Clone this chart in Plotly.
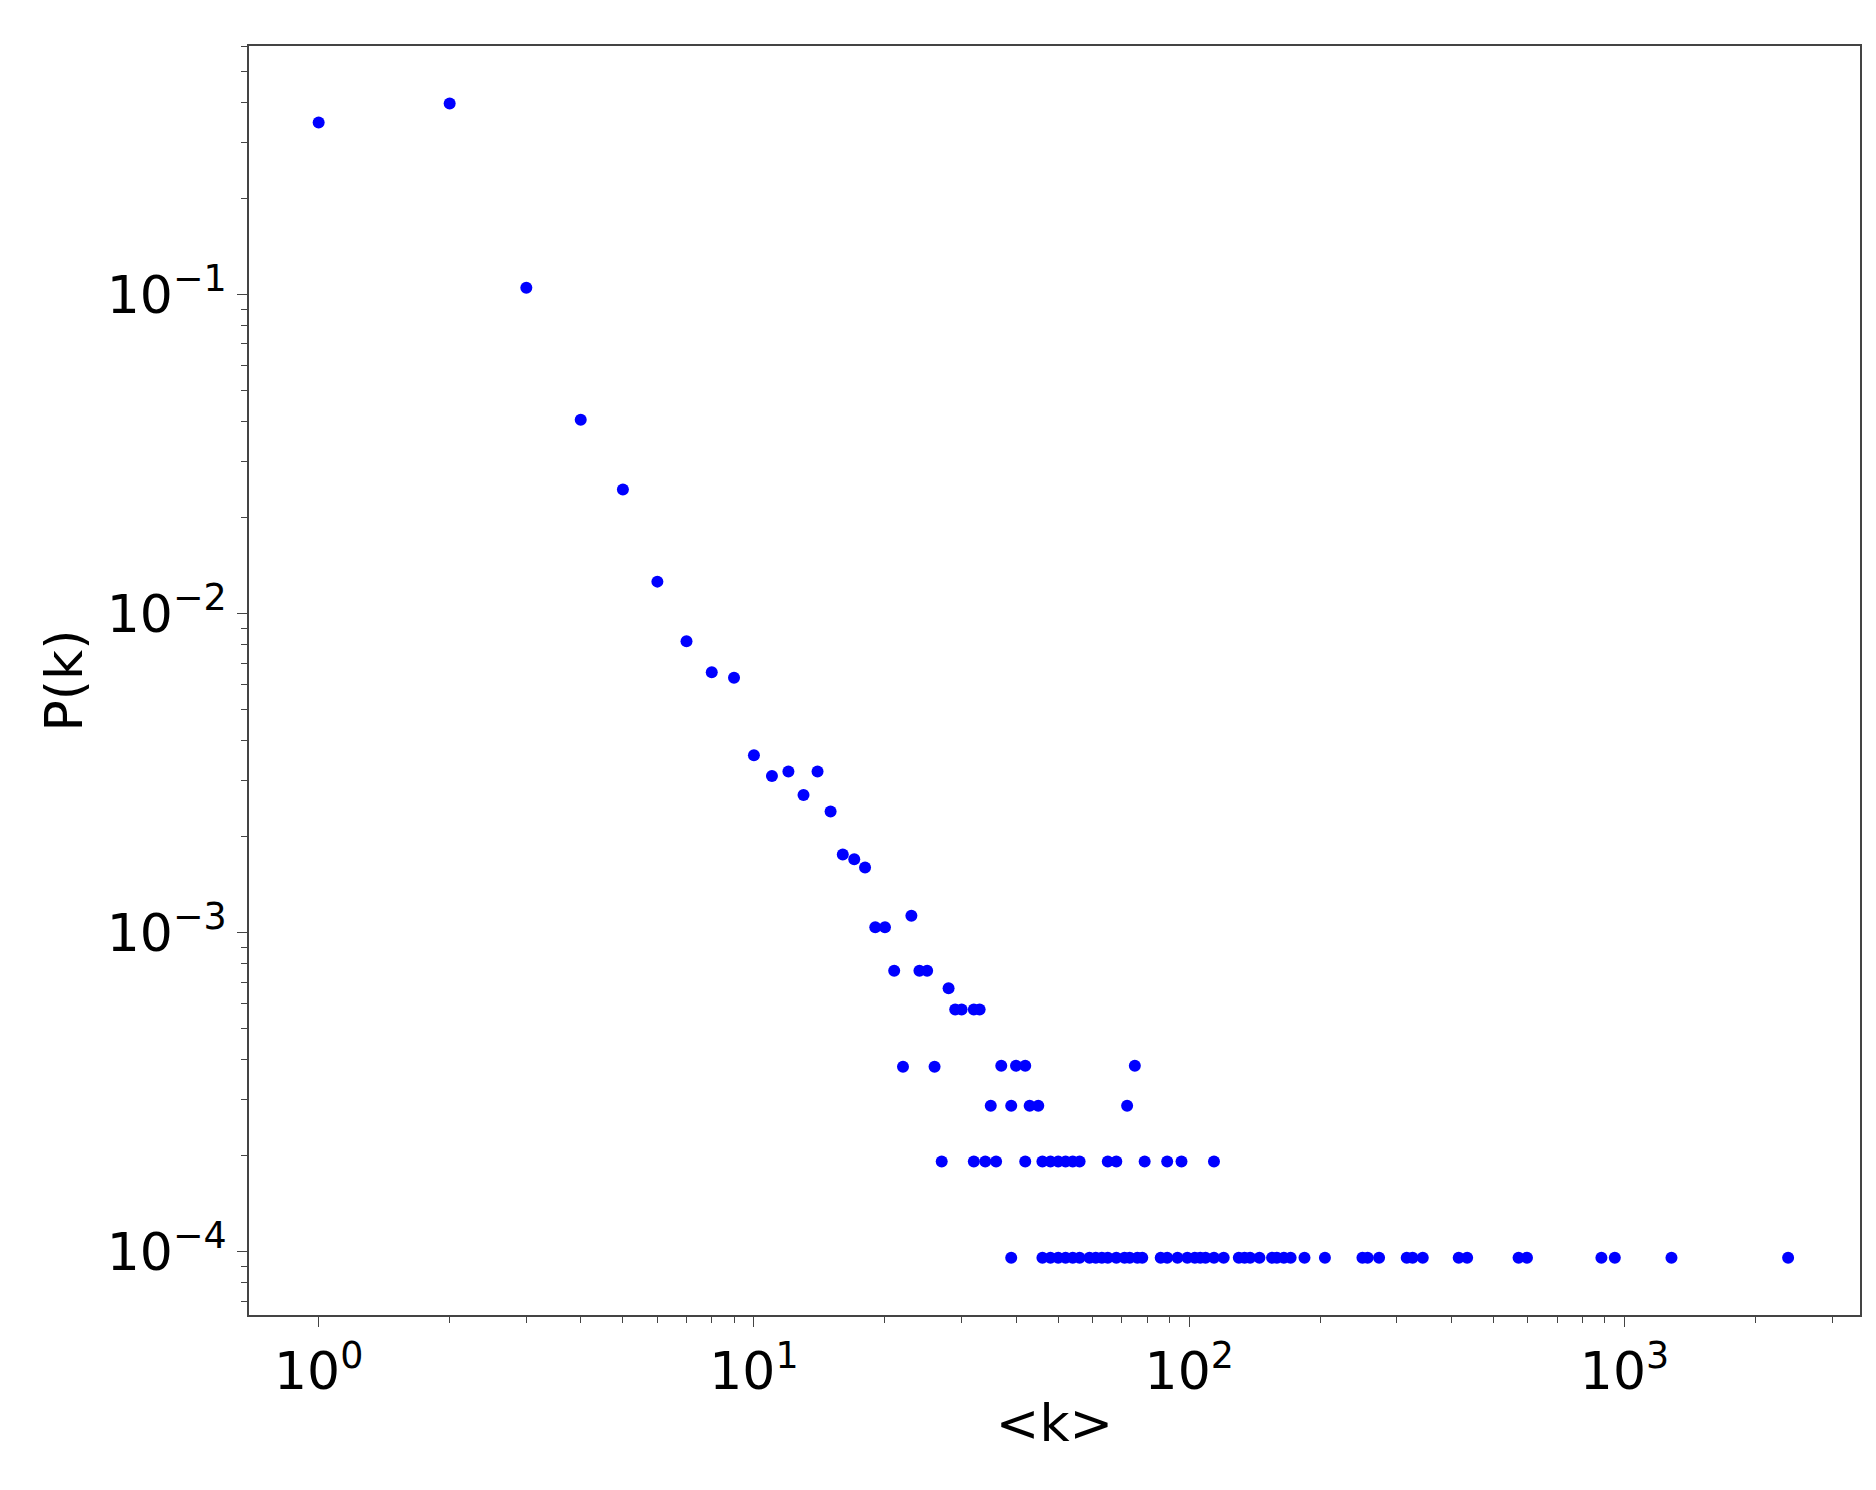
import plotly.graph_objects as go

# degree distribution
k_head = [1, 2, 3, 4, 5, 6, 7, 8, 9, 10, 11, 12, 13, 14, 15, 16, 17, 18, 19, 20,
          21, 22, 23, 24, 25, 26, 28]
p_head = [0.346, 0.397, 0.105, 0.0405, 0.0245, 0.0126, 0.0082, 0.00655, 0.0063,
          0.0036, 0.0031, 0.0032, 0.0027, 0.0032, 0.0024, 0.00176, 0.0017, 0.0016,
          0.00104, 0.00104, 7.6e-4, 3.8e-4, 1.13e-3, 7.6e-4, 7.6e-4, 3.8e-4, 6.7e-4]

k_6 = [29, 30, 32, 33]
k_4 = [37, 40, 42, 75]
k_3 = [35, 39, 43, 45, 72]
k_2 = [27, 32, 34, 36, 42, 46, 48, 50, 52, 54, 56, 65, 68, 79, 89, 96, 114]
k_1 = [39, 46, 48, 50, 52, 54, 56, 59, 61, 63, 65, 68, 71, 73, 76, 78, 86, 89, 94,
       99, 103, 106, 109, 114, 120, 130, 134, 138, 145, 155, 159, 165, 171, 184,
       205, 250, 257, 273, 316, 326, 344, 416, 435, 571, 597, 885, 950, 1282, 2376]

p_1, p_2, p_3, p_4, p_6 = 9.58e-5, 1.92e-4, 2.87e-4, 3.83e-4, 5.75e-4

x = k_head + k_6 + k_4 + k_3 + k_2 + k_1
y = (p_head + [p_6] * len(k_6) + [p_4] * len(k_4) + [p_3] * len(k_3)
     + [p_2] * len(k_2) + [p_1] * len(k_1))

fig = go.Figure(go.Scatter(x=x, y=y, mode='markers',
                           marker=dict(color='blue', size=12)))

fnt = dict(family='DejaVu Sans', size=52, color='black')
fig.update_layout(width=1876, height=1490, plot_bgcolor='white', paper_bgcolor='white',
                  margin=dict(l=241, r=24, t=38, b=183), showlegend=False, font=fnt)

fig.update_xaxes(type='log', range=[-0.16, 3.541], showgrid=False, zeroline=False,
                 showline=True, linecolor='#444', linewidth=2, mirror=True,
                 ticks='outside', ticklen=10, tickcolor='#444',
                 tickvals=[1, 10, 100, 1000],
                 ticktext=['10<sup>0</sup>', '10<sup>1</sup>', '10<sup>2</sup>', '10<sup>3</sup>'],
                 minor=dict(ticks='outside', ticklen=6, tickcolor='#444',
                            tickvals=[m * 10 ** e for e in range(0, 4) for m in range(2, 10)]),
                 title=dict(text='&lt;k&gt;', font=fnt, standoff=4))
fig.update_yaxes(type='log', range=[-4.198, -0.221], showgrid=False, zeroline=False,
                 showline=True, linecolor='#444', linewidth=2, mirror=True,
                 ticks='outside', ticklen=10, tickcolor='#444',
                 tickvals=[1e-4, 1e-3, 1e-2, 1e-1],
                 ticktext=['10<sup>−4</sup>', '10<sup>−3</sup>', '10<sup>−2</sup>', '10<sup>−1</sup>'],
                 minor=dict(ticks='outside', ticklen=6, tickcolor='#444',
                            tickvals=[m * 10.0 ** e for e in range(-5, 0) for m in range(2, 10)]),
                 title=dict(text='P(k)', font=fnt, standoff=8))

fig.write_html("out.html")
